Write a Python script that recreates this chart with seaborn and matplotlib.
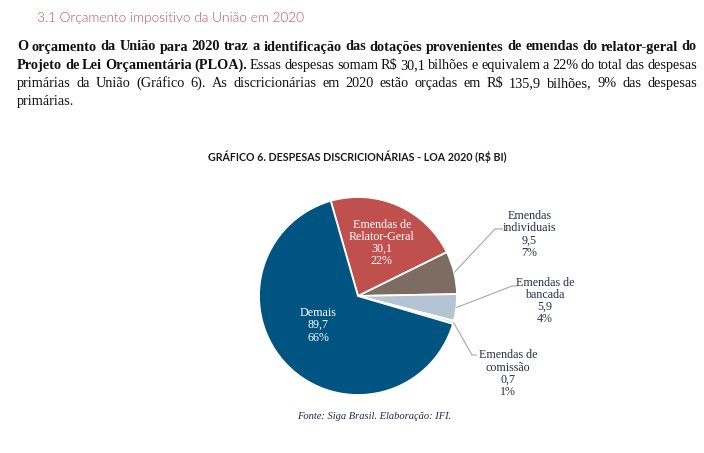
import matplotlib
matplotlib.use('Agg')
import matplotlib.pyplot as plt
import seaborn as sns
import numpy as np
from matplotlib.font_manager import FontProperties

# ---------------- data ----------------
categories = ["Emendas de\nRelator-Geral", "Emendas\nindividuais", "Emendas de\nbancada",
              "Emendas de\ncomissão", "Demais"]
values = [30.1, 9.5, 5.9, 0.7, 89.7]
value_labels = ["30,1", "9,5", "5,9", "0,7", "89,7"]
pct_labels = ["22%", "7%", "4%", "1%", "66%"]
colors = ["#c0504d", "#7d6c61", "#b4c4d2", "#dfe5eb", "#005482"]

heading = "3.1 Orçamento impositivo da União em 2020"
para_lines = [
    [("O orçamento da União para 2020 traz a identificação das dotações provenientes de emendas do relator-geral do", True)],
    [("Projeto de Lei Orçamentária (PLOA).", True),
     ("Essas despesas somam R$ 30,1 bilhões e equivalem a 22% do total das despesas", False)],
    [("primárias da União (Gráfico 6). As discricionárias em 2020 estão orçadas em R$ 135,9 bilhões, 9% das despesas", False)],
    [("primárias.", False)],
]
chart_title = "GRÁFICO 6. DESPESAS DISCRICIONÁRIAS - LOA 2020 (R$ BI)"
source = "Fonte: Siga Brasil. Elaboração: IFI."

# ---------------- setup ----------------
sns.set_theme(style="white")
plt.rcParams['text.parse_math'] = False
W, H = 704, 453
fig = plt.figure(figsize=(W / 100, H / 100), dpi=100)
fig.patch.set_facecolor("white")
renderer = fig.canvas.get_renderer()

def fx(x):
    return x / W

def fy(y):
    return 1 - y / H

def width_of(s, fp):
    t = fig.text(0, 0, s, fontproperties=fp)
    w = t.get_window_extent(renderer).width
    t.remove()
    return w

def fit_size(s, fp_kwargs, target):
    fp = FontProperties(size=10, **fp_kwargs)
    w = width_of(s, fp)
    return 10 * target / w

SERIF = "Liberation Serif"

# ---------------- heading ----------------
hk = dict(family="Lato", weight=300)
hs = fit_size(heading, hk, 266)
fig.text(fx(37), fy(22), heading, fontproperties=FontProperties(size=hs, **hk),
         color="#c0504d", ha="left", va="baseline")

# ---------------- paragraph (justified) ----------------
def words_of(line):
    out = []
    for seg, bold in line:
        for w in seg.split(" "):
            out.append((w, bold))
    return out

base = 10
fpb = FontProperties(family=SERIF, weight="bold", size=base)
fpr = FontProperties(family=SERIF, weight="normal", size=base)
def space_w(fp):
    return width_of("a a", fp) - width_of("aa", fp)
w1 = words_of(para_lines[0])
nat = sum(width_of(w, fpb) for w, _ in w1) + (len(w1) - 1) * space_w(fpb)
psize = base * 680 / nat
fpb = FontProperties(family=SERIF, weight="bold", size=psize)
fpr = FontProperties(family=SERIF, weight="normal", size=psize)

x0, x1 = 17, 697
baselines = [50.5, 68.8, 87.1, 105.4]
for i, line in enumerate(para_lines):
    ws = words_of(line)
    widths = [width_of(w, fpb if b else fpr) for w, b in ws]
    if i < len(para_lines) - 1 and len(ws) > 1:
        gap = (x1 - x0 - sum(widths)) / (len(ws) - 1)
    else:
        gap = space_w(fpr)
    x = x0
    for (w, b), wd in zip(ws, widths):
        fig.text(fx(x), fy(baselines[i]), w, fontproperties=fpb if b else fpr,
                 color="#111111", ha="left", va="baseline")
        x += wd + gap

# ---------------- chart title ----------------
tk = dict(family="Lato", weight="bold")
ts = fit_size(chart_title, tk, 298)
fig.text(fx(357.5), fy(161.5), chart_title, fontproperties=FontProperties(size=ts, **tk),
         color="#1a1a1a", ha="center", va="baseline")

# ---------------- source ----------------
sk = dict(family=SERIF, style="italic")
ss = fit_size(source, sk, 155)
fig.text(fx(374.5), fy(419), source, fontproperties=FontProperties(size=ss, **sk),
         color="#1f2a44", ha="center", va="baseline")

# ---------------- pie ----------------
cx, cy, R = 358, 296, 99
ax = fig.add_axes([fx(cx - R), fy(cy + R), 2 * R / W, 2 * R / H])
wedges, _ = ax.pie(values, colors=colors, startangle=106, counterclock=False,
                   radius=1, wedgeprops=dict(edgecolor="white", linewidth=1.3))
ax.set_xlim(-1, 1)
ax.set_ylim(-1, 1)
ax.set_aspect("equal")
ax.axis("off")

lab_size = fit_size("Relator-Geral", dict(family=SERIF), 66)
lfp = FontProperties(family=SERIF, size=lab_size)
pitch = 12.3 / R

def draw_label(xc, yc, lines, color):
    n = len(lines)
    for k, s in enumerate(lines):
        yy = yc + ((n - 1) / 2 - k) * pitch - 3.5 / R
        ax.text(xc, yy, s, fontproperties=lfp, color=color, ha="center",
                va="baseline", clip_on=False)

label_pos = [(0.24, 0.54), (1.73, 0.63), (1.89, -0.045), (1.515, -0.78), (-0.40, -0.29)]
inside = [True, False, False, False, True]
elbows = {1: ((1.384, 0.677), (1.465, 0.677)),
          2: ((1.556, 0.101), (1.606, 0.101)),
          3: ((1.152, -0.596), (1.202, -0.596))}

for i, wdg in enumerate(wedges):
    lines = categories[i].split("\n") + [value_labels[i], pct_labels[i]]
    xc, yc = label_pos[i]
    draw_label(xc, yc, lines, "white" if inside[i] else "#243047")
    if i in elbows:
        mid = np.deg2rad((wdg.theta1 + wdg.theta2) / 2)
        sx, sy = np.cos(mid) * 1.0, np.sin(mid) * 1.0
        (ex, ey), (hx, hy) = elbows[i]
        ax.plot([sx, ex, hx], [sy, ey, hy], color="#a6a6a6", lw=0.8,
                clip_on=False, solid_capstyle="butt")

fig.savefig("out.png", dpi=100, facecolor="white")
